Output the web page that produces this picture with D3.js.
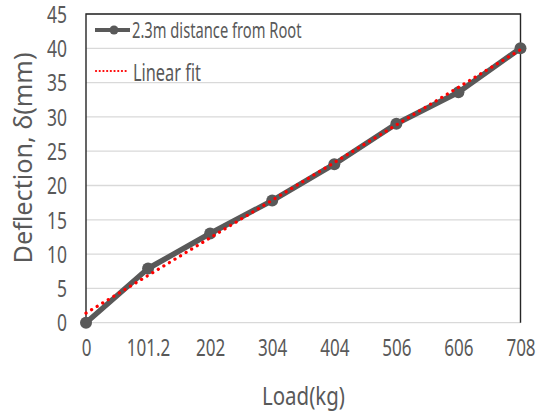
<!DOCTYPE html>
<html><head><meta charset="utf-8">
<script src="https://cdn.jsdelivr.net/npm/d3@7"></script>
<style>body{margin:0;background:#fff}svg{display:block}text{font-family:"Noto Sans",sans-serif;fill:#595959}</style>
</head><body><svg id="c" width="545" height="414"></svg>
<script>
const categories = ["0","101.2","202","304","404","506","606","708"];
const deflection = [0, 7.9, 13.0, 17.8, 23.1, 29.0, 33.6, 40.0];
const linearFit = [1.4, 39.8]; // fit line values at first and last category
const yTicks = [0,5,10,15,20,25,30,35,40,45];
const seriesName = "2.3m distance from Root";
const fitName = "Linear fit";
const xTitle = "Load(kg)";
const yTitle = "Deflection, δ(mm)";

function condense(sel, f){
  sel.each(function(){
    const n=this, len=n.getComputedTextLength();
    d3.select(n).attr("textLength",len*f).attr("lengthAdjust","spacingAndGlyphs");
  });
}

const svg = d3.select("#c");
const L=86,R=520.5,T=14,B=322.7;
const x = d3.scalePoint().domain(categories).range([L,R]);
const y = d3.scaleLinear().domain([0,45]).range([B,T]);

// gridlines
svg.append("g").selectAll("line").data(yTicks).join("line")
  .attr("x1",L).attr("x2",R).attr("y1",d=>y(d)).attr("y2",d=>y(d))
  .attr("stroke","#d9d9d9").attr("stroke-width",1.3);
// border left, top, right
svg.append("path").attr("d",`M${L},${B}V${T}H${R}V${B}`).attr("fill","none")
  .attr("stroke","#262626").attr("stroke-width",1.4);

// y axis labels
const yAxis = d3.axisLeft(y).tickValues(yTicks).tickSize(0).tickPadding(19);
const ya = svg.append("g").attr("transform",`translate(${L},0)`).call(yAxis);
ya.select(".domain").remove();
ya.selectAll("text").style("font-size","23px").attr("fill","#595959").style("font-family",null)
  .attr("dy","0.36em");
condense(ya.selectAll("text"),0.76);

const xAxis = d3.axisBottom(x).tickSize(0).tickPadding(17);
const xa = svg.append("g").attr("transform",`translate(0,${B})`).call(xAxis);
xa.select(".domain").remove();
xa.selectAll("text").style("font-size","23px").attr("fill","#595959").style("font-family",null);
condense(xa.selectAll("text"),0.74);

// series line
const line = d3.line().x((d,i)=>x(categories[i])).y(d=>y(d));
svg.append("path").datum(deflection).attr("d",line).attr("fill","none")
  .attr("stroke","#595959").attr("stroke-width",5.5).attr("stroke-linejoin","round");
svg.append("g").selectAll("circle").data(deflection).join("circle")
  .attr("cx",(d,i)=>x(categories[i])).attr("cy",d=>y(d)).attr("r",6).attr("fill","#595959");
// fit line
const fitCats=[categories[0],categories[categories.length-1]];
svg.append("line").attr("x1",x(fitCats[0])).attr("y1",y(linearFit[0]))
  .attr("x2",x(fitCats[1])).attr("y2",y(linearFit[1]))
  .attr("stroke","#ff0000").attr("stroke-width",3.2).attr("stroke-linecap","round")
  .attr("stroke-dasharray","0.1,6.4");

// legend
const lg = svg.append("g");
lg.append("line").attr("x1",95).attr("x2",130).attr("y1",30).attr("y2",30).attr("stroke","#595959").attr("stroke-width",4);
lg.append("circle").attr("cx",114).attr("cy",30).attr("r",4.5).attr("fill","#595959");
const t1=lg.append("text").attr("x",132).attr("y",38).style("font-size",  "21px").text(seriesName);
condense(t1,0.70);
lg.append("line").attr("x1",96).attr("x2",127).attr("y1",71).attr("y2",71).attr("stroke","#ff0000").attr("stroke-width",2.2)
  .attr("stroke-linecap","round").attr("stroke-dasharray","0.1,3.6");
const t2=lg.append("text").attr("x",133).attr("y",81).style("font-size","24px").text(fitName);
condense(t2,0.68);

// axis titles
const yt=svg.append("text").attr("transform",`translate(23,158) rotate(-90)`).attr("text-anchor","middle")
  .attr("dy","0.36em").style("font-size","26px").text(yTitle);
yt.attr("textLength",211).attr("lengthAdjust","spacingAndGlyphs");
const xt=svg.append("text").attr("x",303.5).attr("y",405).attr("text-anchor","middle")
  .style("font-size","26px").text(xTitle);
xt.attr("textLength",83).attr("lengthAdjust","spacingAndGlyphs");
</script></body></html>
